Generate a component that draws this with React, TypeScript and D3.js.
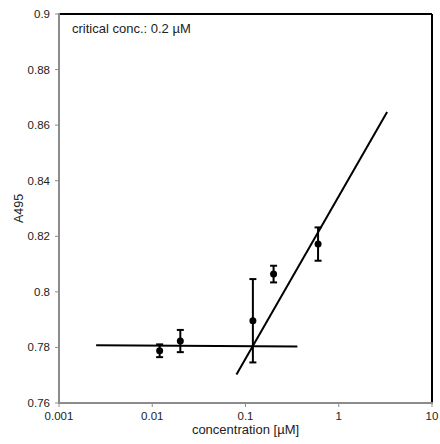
import React from "react";
import * as d3 from "d3";

const concentrations = [0.012, 0.02, 0.12, 0.2, 0.6];
const absorbance = [0.7788, 0.7823, 0.7896, 0.8064, 0.8172];
const errors = [0.0023, 0.004, 0.015, 0.003, 0.006];
const baselineFit = [
  { x: 0.0025, y: 0.7808 },
  { x: 0.36, y: 0.7803 },
];
const riseFit = [
  { x: 0.08, y: 0.7703 },
  { x: 3.3, y: 0.8647 },
];
const xTicks = [0.001, 0.01, 0.1, 1, 10];
const xTickLabels = ["0.001", "0.01", "0.1", "1", "10"];
const yTicks = [0.76, 0.78, 0.8, 0.82, 0.84, 0.86, 0.88, 0.9];
const yTickLabels = ["0.76", "0.78", "0.8", "0.82", "0.84", "0.86", "0.88", "0.9"];
const annotation = "critical conc.: 0.2 µM";
const xLabel = "concentration [µM]";
const yLabel = "A495";

export default function App() {
  const W = 440, H = 444;
  const left = 59, right = 432, top = 14, bottom = 403;
  const x = d3.scaleLog().domain([0.001, 10]).range([left, right]);
  const y = d3.scaleLinear().domain([0.76, 0.9]).range([bottom, top]);
  const line = d3.line<{ x: number; y: number }>().x(d => x(d.x)).y(d => y(d.y));
  const font = "Liberation Sans, Arial, sans-serif";
  const axisColor = "#8c8c8c";
  return (
    <svg width={W} height={H} style={{ position: "absolute", left: 0, top: 0, background: "#fff" }}>
      <rect x={0} y={0} width={W} height={H} fill="#fff" />
      {/* top & right borders */}
      <line x1={left} x2={right} y1={top} y2={top} stroke="#000" strokeWidth={2} />
      <line x1={right} x2={right} y1={top} y2={bottom} stroke="#000" strokeWidth={2} />
      {/* axes */}
      <line x1={left} x2={left} y1={top - 1} y2={bottom + 1} stroke={axisColor} strokeWidth={2} />
      <line x1={left - 1} x2={right + 1} y1={bottom} y2={bottom} stroke={axisColor} strokeWidth={2} />
      {yTicks.map((t, i) => (
        <g key={"y" + i}>
          <line x1={left - 4} x2={left} y1={y(t)} y2={y(t)} stroke={axisColor} strokeWidth={1} />
          <text x={left - 9} y={y(t) + 4} textAnchor="end" fontFamily={font} fontSize={11.5} fill="#222">
            {yTickLabels[i]}
          </text>
        </g>
      ))}
      {xTicks.map((t, i) => (
        <g key={"x" + i}>
          <line x1={x(t)} x2={x(t)} y1={bottom} y2={bottom + 4} stroke={axisColor} strokeWidth={1} />
          <text x={x(t)} y={bottom + 17} textAnchor="middle" fontFamily={font} fontSize={11.5} fill="#222">
            {xTickLabels[i]}
          </text>
        </g>
      ))}
      <text x={(left + right) / 2} y={434} textAnchor="middle" fontFamily={font} fontSize={13} fill="#222">
        {xLabel}
      </text>
      <text
        transform={`translate(23,${(top + bottom) / 2}) rotate(-90)`}
        textAnchor="middle"
        fontFamily={font}
        fontSize={12.5}
        fill="#222"
      >
        {yLabel}
      </text>
      <text x={72} y={33} fontFamily={font} fontSize={13} fill="#222">
        {annotation}
      </text>
      {/* fit lines */}
      <path d={line(baselineFit) || ""} stroke="#000" strokeWidth={2} fill="none" />
      <path d={line(riseFit) || ""} stroke="#000" strokeWidth={2} fill="none" />
      {/* data points */}
      {concentrations.map((c, i) => {
        const cx = x(c);
        const y1 = y(absorbance[i] + errors[i]);
        const y2 = y(absorbance[i] - errors[i]);
        return (
          <g key={"p" + i}>
            <line x1={cx} x2={cx} y1={y1} y2={y2} stroke="#000" strokeWidth={2} />
            <line x1={cx - 3.5} x2={cx + 3.5} y1={y1} y2={y1} stroke="#000" strokeWidth={2} />
            <line x1={cx - 3.5} x2={cx + 3.5} y1={y2} y2={y2} stroke="#000" strokeWidth={2} />
            <circle cx={cx} cy={y(absorbance[i])} r={3.5} fill="#000" />
          </g>
        );
      })}
    </svg>
  );
}
